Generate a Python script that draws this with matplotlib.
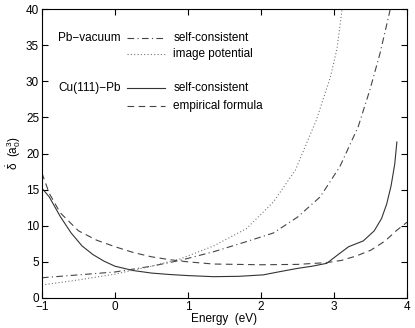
import matplotlib
matplotlib.use("Agg")
import matplotlib.pyplot as plt

plt.rcParams['font.family'] = ['Liberation Sans', 'DejaVu Sans']
plt.rcParams['mathtext.fontset'] = 'custom'
plt.rcParams['mathtext.rm'] = 'Liberation Sans'
plt.rcParams['mathtext.it'] = 'Liberation Sans'

# Cu(111)-Pb self-consistent (solid)
cu_sc_e = [-1.0, -0.9, -0.75, -0.6, -0.45, -0.3, -0.15, 0.0, 0.25, 0.5, 0.75, 1.0,
           1.35, 1.7, 2.03, 2.26, 2.5, 2.7, 2.9, 3.08, 3.2, 3.4, 3.55, 3.65, 3.72,
           3.78, 3.83, 3.86]
cu_sc_v = [15.2, 14.0, 11.3, 9.0, 7.2, 6.0, 5.1, 4.4, 3.8, 3.45, 3.25, 3.1,
           2.95, 3.0, 3.2, 3.65, 4.1, 4.4, 4.8, 6.2, 7.1, 7.9, 9.3, 11.0, 13.0,
           15.5, 18.5, 21.6]

# Cu(111)-Pb empirical formula (dashed)
cu_emp_e = [-1.0, -0.9, -0.75, -0.5, -0.25, 0.0, 0.25, 0.5, 0.75, 1.0, 1.35, 2.0,
            2.5, 2.9, 3.1, 3.3, 3.5, 3.7, 3.85, 4.0]
cu_emp_v = [17.3, 14.5, 11.8, 9.3, 8.0, 7.1, 6.3, 5.7, 5.3, 5.0, 4.7, 4.6,
            4.65, 4.9, 5.2, 5.8, 6.6, 7.9, 9.3, 10.5]

# Pb-vacuum self-consistent (dash-dot)
pb_sc_e = [-1.0, -0.5, 0.0, 0.5, 0.89, 1.35, 1.8, 2.17, 2.5, 2.81, 3.08, 3.33,
           3.49, 3.63, 3.77]
pb_sc_v = [2.8, 3.2, 3.6, 4.4, 5.2, 6.4, 7.8, 9.0, 11.2, 14.0, 18.2, 23.7,
           28.8, 33.9, 40.0]

# Pb-vacuum image potential (dotted)
pb_im_e = [-1.0, -0.5, 0.0, 0.5, 0.89, 1.35, 1.8, 2.17, 2.47, 2.76, 2.95, 3.04, 3.11]
pb_im_v = [1.8, 2.5, 3.3, 4.4, 5.4, 7.2, 9.6, 13.3, 17.7, 24.7, 30.6, 34.5, 40.0]

fig = plt.figure(figsize=(4.15, 3.28), dpi=100)
ax = fig.add_axes([0.101, 0.0915, 0.880, 0.881])

lw = 0.8
ax.plot(cu_sc_e, cu_sc_v, color='#333333', lw=lw, ls='-')
ax.plot(cu_emp_e, cu_emp_v, color='#444444', lw=lw, ls=(0, (6, 4)))
ax.plot(pb_sc_e, pb_sc_v, color='#444444', lw=lw, ls=(0, (6, 3, 1, 3)))
ax.plot(pb_im_e, pb_im_v, color='#777777', lw=lw, ls=(0, (1, 2)))

ax.set_xlim(-1, 4)
ax.set_ylim(0, 40)
ax.set_xticks([-1, 0, 1, 2, 3, 4])
ax.set_yticks([0, 5, 10, 15, 20, 25, 30, 35, 40])
ax.tick_params(direction='in', top=True, right=True, labelsize=8.5, length=4, pad=2)
ax.set_xlabel('Energy  (eV)', fontsize=8.5, labelpad=0)
ax.set_ylabel(r'$\dot{\delta}$  (a$_0^3$)', fontsize=8.5, labelpad=2)

# legend drawn as text + sample lines
leg_x0, leg_x1 = 0.17, 0.69
tx = 0.8
ax.text(-0.78, 36.0, 'Pb\u2212vacuum', fontsize=8.5, va='center')
ax.plot([leg_x0, leg_x1], [36.0, 36.0], color='#444444', lw=lw, ls=(0, (6, 3, 1, 3)))
ax.text(tx, 36.0, 'self-consistent', fontsize=8.5, va='center')
ax.plot([leg_x0, leg_x1], [33.8, 33.8], color='#777777', lw=lw, ls=(0, (1, 2)))
ax.text(tx, 33.8, 'image potential', fontsize=8.5, va='center')

ax.text(-0.78, 29.0, 'Cu(111)\u2212Pb', fontsize=8.5, va='center')
ax.plot([leg_x0, leg_x1], [29.0, 29.0], color='#333333', lw=lw, ls='-')
ax.text(tx, 29.0, 'self-consistent', fontsize=8.5, va='center')
ax.plot([leg_x0, leg_x1], [26.6, 26.6], color='#444444', lw=lw, ls=(0, (6, 4)))
ax.text(tx, 26.6, 'empirical formula', fontsize=8.5, va='center')

fig.savefig('out.png', dpi=100)
